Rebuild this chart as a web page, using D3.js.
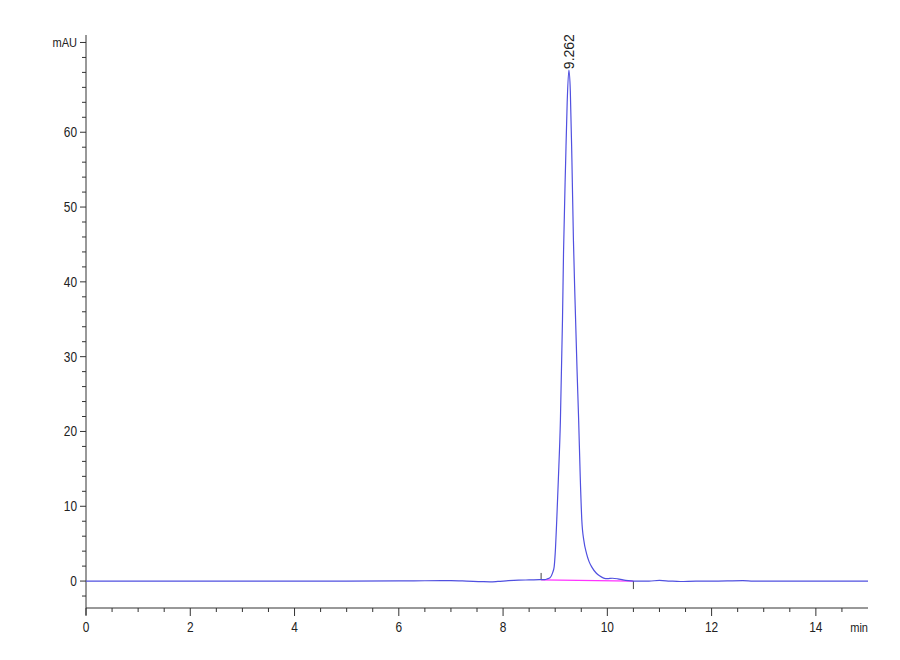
<!DOCTYPE html>
<html>
<head>
<meta charset="utf-8">
<script src="https://cdn.jsdelivr.net/npm/d3@7"></script>
<style>
  body { margin: 0; background: #fff; }
  text { font-family: "Liberation Sans", Arial, sans-serif; }
</style>
</head>
<body>
<div id="wrapper"></div>
<script>
// retention time (min) and absorbance (mAU)
const timeMin = [0, 1, 2, 3, 4, 5, 6, 6.5, 7.0, 7.3, 7.6, 7.75, 7.9, 8.1, 8.3, 8.5, 8.7, 8.8,
  8.85, 8.9, 8.95, 8.98, 9.0, 9.03, 9.06, 9.1, 9.14, 9.16, 9.2, 9.23, 9.262, 9.29, 9.32,
  9.35, 9.38, 9.42, 9.45, 9.48, 9.51, 9.55, 9.6, 9.65, 9.7, 9.79, 9.85, 9.93, 10.0, 10.1,
  10.2, 10.3, 10.4, 10.5, 10.8, 11.0, 11.2, 11.4, 11.7, 12, 12.6, 12.8, 13, 14, 15]
const signal = [0, 0, 0, 0, 0, 0, 0.02, 0.04, 0.06, 0.0, -0.08, -0.1, -0.05, 0.05, 0.12, 0.15, 0.18, 0.2,
  0.3, 0.45, 1.1, 1.9, 3.7, 8.2, 13.5, 21.5, 35, 44, 56, 64, 68.3, 65.5, 56.5,
  45.5, 37.6, 28, 21.5, 14, 8.2, 5.4, 3.7, 2.6, 1.9, 1.05, 0.7, 0.4, 0.32, 0.38,
  0.3, 0.15, 0.05, 0, 0, 0.08, 0, -0.06, 0, 0, 0.06, 0, 0, 0, 0]

const peakTime = 9.262
const peakHeight = 68.3
const peakLabel = "9.262"

// integration baseline (start / end)
const baseStart = [8.73, 0.15]
const baseEnd = [10.5, 0]

const yMajor = [0, 10, 20, 30, 40, 50, 60]
const xMajor = [0, 2, 4, 6, 8, 10, 12, 14]

const width = 900
const height = 660

const svg = d3.select("#wrapper").append("svg")
    .attr("width", width)
    .attr("height", height)

const xScale = d3.scaleLinear().domain([0, 15]).range([86, 868])
const yScale = d3.scaleLinear().domain([-3.6, 73]).range([608, 35])

const axisColor = "#333"
const narrow = "scale(0.85,1)"

// y axis
const yMinor = d3.range(-2, 73, 2)
svg.append("line")
    .attr("x1", xScale(0)).attr("x2", xScale(0))
    .attr("y1", yScale.range()[1]).attr("y2", yScale.range()[0] + 7)
    .attr("stroke", axisColor)
svg.selectAll(".ytick").data(yMinor).join("line")
    .attr("x1", d => yMajor.includes(d) || d === 72 ? xScale(0) - 6 : xScale(0) - 4)
    .attr("x2", xScale(0))
    .attr("y1", d => yScale(d)).attr("y2", d => yScale(d))
    .attr("stroke", axisColor)
svg.selectAll(".ylab").data(yMajor).join("text")
    .attr("transform", d => `translate(${xScale(0) - 9},${yScale(d)}) ${narrow}`)
    .attr("dy", "0.35em")
    .attr("text-anchor", "end")
    .attr("font-size", 14)
    .attr("fill", "#222")
    .text(d => d)
svg.append("text")
    .attr("transform", `translate(${xScale(0) - 9},${yScale(72)}) ${narrow}`)
    .attr("dy", "0.35em")
    .attr("text-anchor", "end")
    .attr("font-size", 13)
    .attr("fill", "#222")
    .text("mAU")

// x axis
const xMinor = d3.range(0, 15, 0.5)
svg.append("line")
    .attr("x1", xScale(0)).attr("x2", xScale(15))
    .attr("y1", yScale(-3.6)).attr("y2", yScale(-3.6))
    .attr("stroke", axisColor)
svg.selectAll(".xtick").data(xMinor).join("line")
    .attr("x1", d => xScale(d)).attr("x2", d => xScale(d))
    .attr("y1", yScale(-3.6))
    .attr("y2", d => yScale(-3.6) + (xMajor.includes(d) ? 8 : 4))
    .attr("stroke", axisColor)
svg.selectAll(".xlab").data(xMajor).join("text")
    .attr("transform", d => `translate(${xScale(d)},632) ${narrow}`)
    .attr("text-anchor", "middle")
    .attr("font-size", 14)
    .attr("fill", "#222")
    .text(d => d)
svg.append("text")
    .attr("transform", `translate(${xScale(15)},632) ${narrow}`)
    .attr("text-anchor", "end")
    .attr("font-size", 13)
    .attr("fill", "#222")
    .text("min")

// integration baseline
svg.append("line")
    .attr("x1", xScale(baseStart[0])).attr("y1", yScale(baseStart[1]))
    .attr("x2", xScale(baseEnd[0])).attr("y2", yScale(baseEnd[1]))
    .attr("stroke", "#ff33ff")
    .attr("stroke-width", 1.3)
svg.append("line")
    .attr("x1", xScale(baseStart[0])).attr("x2", xScale(baseStart[0]))
    .attr("y1", yScale(baseStart[1])).attr("y2", yScale(baseStart[1]) - 7)
    .attr("stroke", "#444")
svg.append("line")
    .attr("x1", xScale(baseEnd[0])).attr("x2", xScale(baseEnd[0]))
    .attr("y1", yScale(baseEnd[1])).attr("y2", yScale(baseEnd[1]) + 8)
    .attr("stroke", "#444")

// trace
const line = d3.line()
    .x((d, i) => xScale(timeMin[i]))
    .y(d => yScale(d))
    .curve(d3.curveMonotoneX)

svg.append("path")
    .datum(signal)
    .attr("d", line)
    .attr("fill", "none")
    .attr("stroke", "#5050e0")
    .attr("stroke-width", 1.2)

// peak label
svg.append("text")
    .attr("transform", `translate(${xScale(peakTime) + 5}, ${yScale(peakHeight) - 1}) rotate(-90)`)
    .attr("font-size", 14)
    .attr("fill", "#222")
    .text(peakLabel)
</script>
</body>
</html>
